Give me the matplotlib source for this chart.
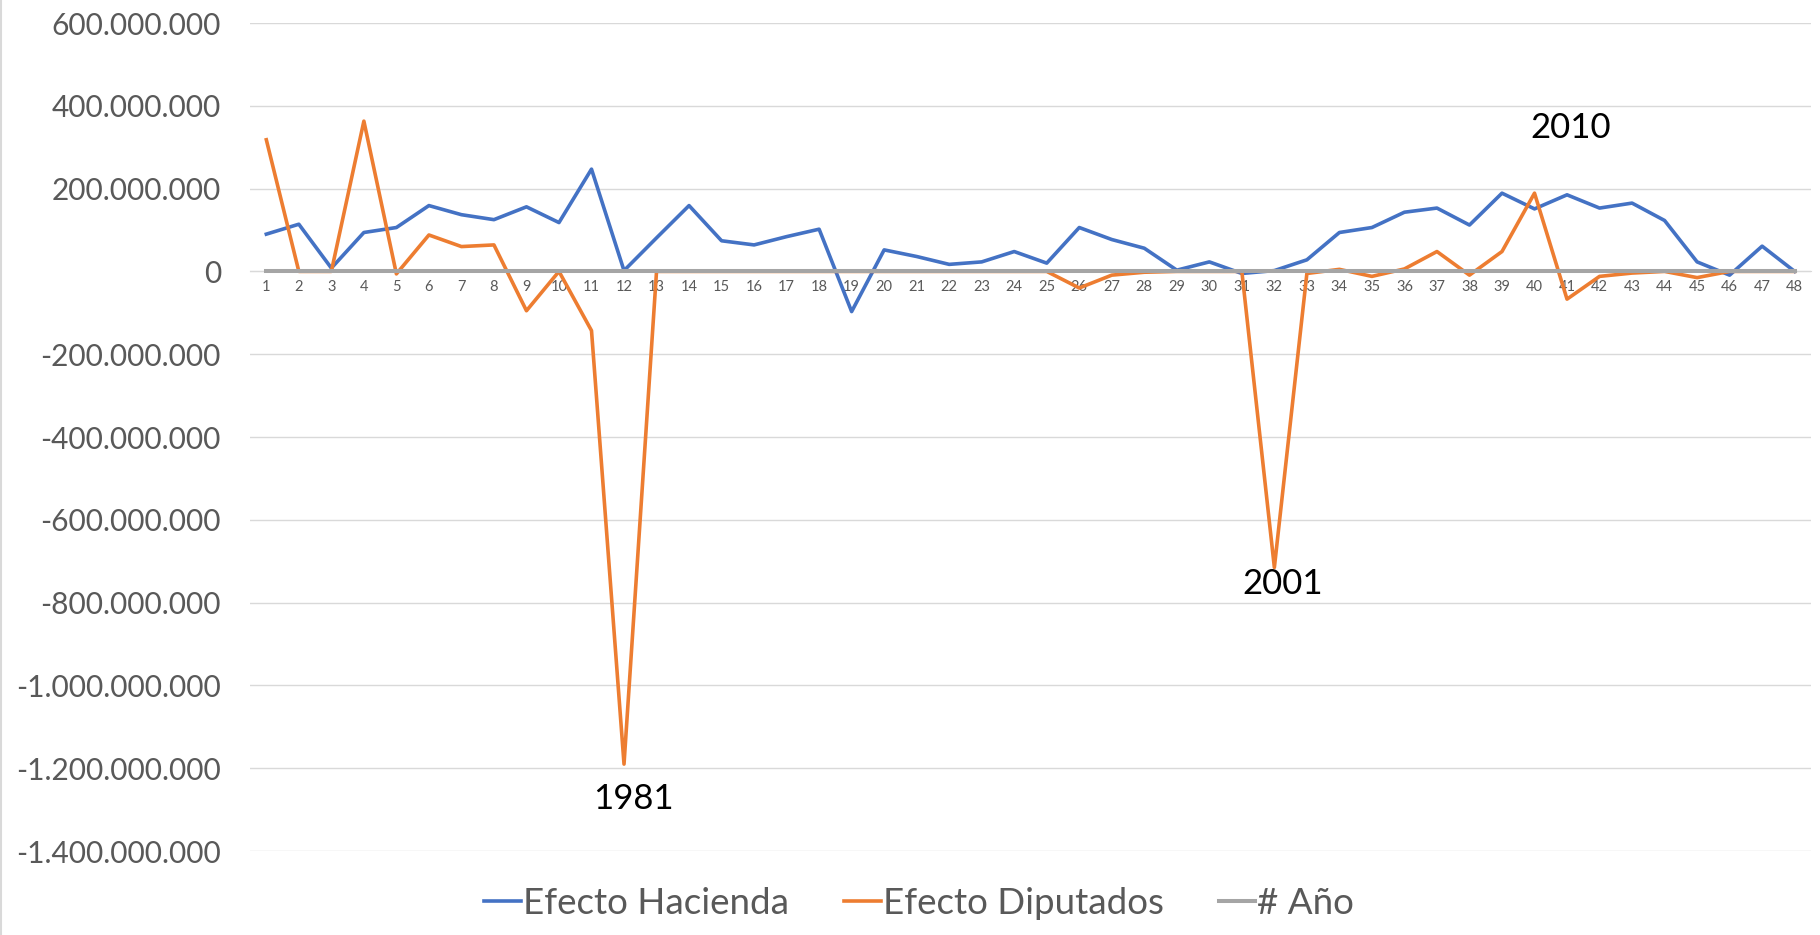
import numpy as np
import matplotlib
matplotlib.use("Agg")
import matplotlib.pyplot as plt
from matplotlib.ticker import FuncFormatter, MultipleLocator
from matplotlib.lines import Line2D

# =========================================================
# DATA
# =========================================================

periodos = list(range(1, 49))

efecto_hacienda = [
    90e6, 114e6, 8e6, 94e6, 106e6, 159e6, 137e6, 125e6, 156e6, 118e6,
    247e6, 2e6, 81e6, 159e6, 74e6, 64e6, 84e6, 102e6, -97e6, 52e6,
    36e6, 17e6, 23e6, 48e6, 20e6, 106e6, 77e6, 56e6, 3e6, 23e6,
    -5e6, 2e6, 28e6, 94e6, 106e6, 143e6, 153e6, 112e6, 189e6, 151e6,
    185e6, 153e6, 165e6, 123e6, 23e6, -9e6, 61e6, 0,
]

efecto_diputados = [
    318e6, 0, 0, 363e6, -6e6, 88e6, 60e6, 64e6, -95e6, 0,
    -143e6, -1190e6, 0, 0, 0, 0, 0, 0, 0, 0,
    0, 0, 0, 0, 0, -40e6, -9e6, -2e6, 0, 0,
    0, -715e6, -5e6, 5e6, -12e6, 6e6, 48e6, -9e6, 48e6, 189e6,
    -67e6, -12e6, -4e6, 0, -15e6, 0, 0, 0,
]

num_anio = periodos  # tiny next to the other series -> flat line at 0

etiquetas = [("1981", 12.3, -1275e6), ("2001", 32.25, -755e6), ("2010", 41.1, 346e6)]

# =========================================================
# PLOT
# =========================================================

plt.rcParams["font.family"] = ["Lato", "DejaVu Sans"]
TXT = "#595959"

fig = plt.figure(figsize=(18.2, 9.35), dpi=100)
ax = fig.add_axes([0.1374, 0.0898, 0.8576, 0.8856])

ax.plot(periodos, efecto_hacienda, color="#4472C4", lw=2.6, label="Efecto Hacienda", zorder=3)
ax.plot(periodos, efecto_diputados, color="#ED7D31", lw=2.6, label="Efecto Diputados", zorder=4)
ax.plot(periodos, num_anio, color="#A5A5A5", lw=2.9, label="# Año", zorder=5)

ax.set_xlim(0.5, 48.5)
ax.set_ylim(-1400e6, 600e6)
ax.yaxis.set_major_locator(MultipleLocator(200e6))
ax.yaxis.set_major_formatter(FuncFormatter(lambda v, p: f"{int(round(v)):,}".replace(",", ".")))
ax.set_xticks(periodos)
ax.set_xticklabels([str(p) for p in periodos])

ax.grid(axis="y", color="#D9D9D9", lw=1)
ax.set_axisbelow(True)
for s in ["top", "right", "left"]:
    ax.spines[s].set_visible(False)
ax.spines["bottom"].set_position(("data", 0))
ax.spines["bottom"].set_color("#D9D9D9")

ax.tick_params(axis="y", length=0, pad=21, labelsize=21.5, labelcolor=TXT)
ax.tick_params(axis="x", length=0, pad=6, labelsize=10.5, labelcolor=TXT)

for txt, x, y in etiquetas:
    ax.text(x, y, txt, ha="center", va="center", fontsize=25, color="black")

fig.legend(loc="center", bbox_to_anchor=(0.505, 0.034), ncol=3, frameon=False,
           fontsize=26.5, labelcolor=TXT, handlelength=1.0, handletextpad=0.05,
           columnspacing=1.5)

# thin border on the left edge of the chart area
fig.add_artist(Line2D([0.0008, 0.0008], [0, 1], color="#D9D9D9", lw=1.5))

plt.savefig("out.png", dpi=100)
